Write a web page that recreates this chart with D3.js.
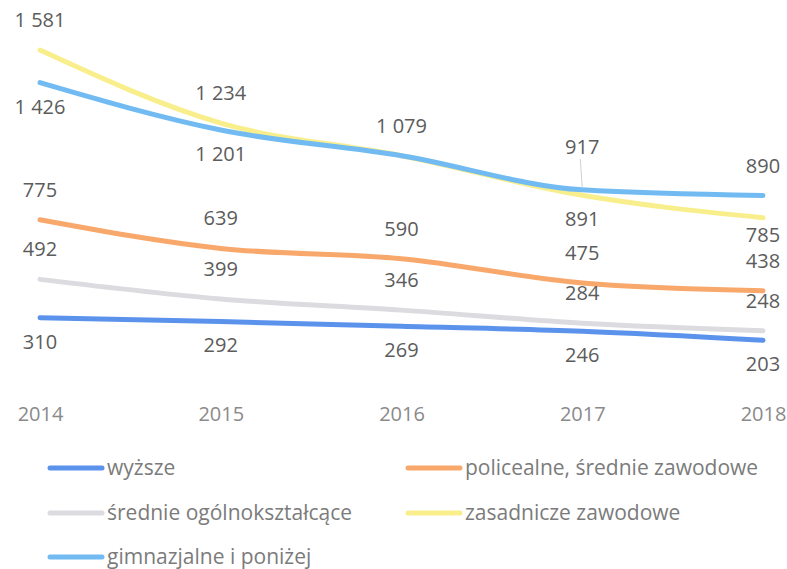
<!DOCTYPE html>
<html>
<head>
<meta charset="utf-8">
<script src="https://cdn.jsdelivr.net/npm/d3@7"></script>
<style>
  body { margin: 0; background: #fff; }
  svg { font-family: "Open Sans", sans-serif; }
</style>
</head>
<body>
<div id="chart"></div>
<script>
var years = ["2014", "2015", "2016", "2017", "2018"];
var names = ["wyższe", "policealne, średnie zawodowe", "średnie ogólnokształcące", "zasadnicze zawodowe", "gimnazjalne i poniżej"];
var wyzsze = [310, 292, 269, 246, 203];
var policealne = [775, 639, 590, 475, 438];
var srednieOgolne = [492, 399, 346, 284, 248];
var zasadnicze = [1581, 1234, 1079, 891, 785];
var gimnazjalne = [1426, 1201, 1079, 917, 890];

// where each value label sits: a = above, b = below, n = just below,
// l = above with leader line, null = hidden (covered by the other 1 079)
var labelSide = [
  ["b", "b", "b", "b", "b"],
  ["a", "a", "a", "a", "a"],
  ["a", "a", "a", "a", "a"],
  ["a", "a", "a", "b", "n"],
  ["b", "b", null, "l", "a"]
];
var offsets = {a: -30, b: 24, n: 17, l: -43};

var colors = ["#5b93ec", "#f9a86c", "#dcdce0", "#f8ef8c", "#72bbf2"];
var seriesValues = [wyzsze, policealne, srednieOgolne, zasadnicze, gimnazjalne];

var width = 787, height = 569;
var svg = d3.select("#chart").append("svg")
    .attr("width", width)
    .attr("height", height);

var x = d3.scalePoint().domain(years).range([40, 763]);
var y = d3.scaleLinear().domain([0, 1600]).range([383, 46]);

var fmt = d3.formatLocale({decimal: ",", thousands: " ", grouping: [3], currency: ["", ""]}).format(",d");

// x axis
var axis = svg.append("g")
    .attr("transform", "translate(0,414)")
    .call(d3.axisBottom(x).tickSize(0).tickPadding(0));
axis.select(".domain").remove();
axis.selectAll("text")
    .attr("y", 0)
    .attr("dy", "0.35em")
    .style("font-size", "20px")
    .style("font-family", "Open Sans, sans-serif")
    .attr("fill", "#8a8a8a");

var line = d3.line()
    .x(function(d, i) { return x(years[i]); })
    .y(function(d) { return y(d); })
    .curve(d3.curveMonotoneX);

// drawing order: grey, blue, orange, yellow, light blue on top
var order = [2, 0, 1, 3, 4];
order.forEach(function(s) {
  svg.append("path")
      .datum(seriesValues[s])
      .attr("fill", "none")
      .attr("stroke", colors[s])
      .attr("stroke-width", 5)
      .attr("stroke-linecap", "round")
      .attr("d", line);
});

// value labels
seriesValues.forEach(function(vals, s) {
  vals.forEach(function(v, i) {
    var side = labelSide[s][i];
    if (!side) return;
    var px = x(years[i]), py = y(v);
    var ly = py + offsets[side];
    if (side == "l") {
      svg.append("line")
          .attr("x1", px - 2).attr("y1", ly + 12)
          .attr("x2", px).attr("y2", py - 2)
          .attr("stroke", "#d0d0d0")
          .attr("stroke-width", 1);
    }
    svg.append("text")
        .attr("x", px)
        .attr("y", ly)
        .attr("dy", "0.35em")
        .attr("text-anchor", "middle")
        .style("font-size", "20px")
        .attr("fill", "#5c5c5c")
        .text(fmt(v));
  });
});

// legend
var legendPos = [[50, 468], [408, 468], [50, 513], [408, 513], [50, 557]];
names.forEach(function(n, s) {
  var g = svg.append("g").attr("transform", "translate(" + legendPos[s][0] + "," + legendPos[s][1] + ")");
  g.append("line")
      .attr("x1", 0).attr("x2", 52)
      .attr("stroke", colors[s])
      .attr("stroke-width", 5)
      .attr("stroke-linecap", "round");
  g.append("text")
      .attr("x", 57)
      .attr("dy", "0.32em")
      .style("font-size", "21px")
      .attr("fill", "#7b7b7b")
      .text(n);
});
</script>
</body>
</html>
